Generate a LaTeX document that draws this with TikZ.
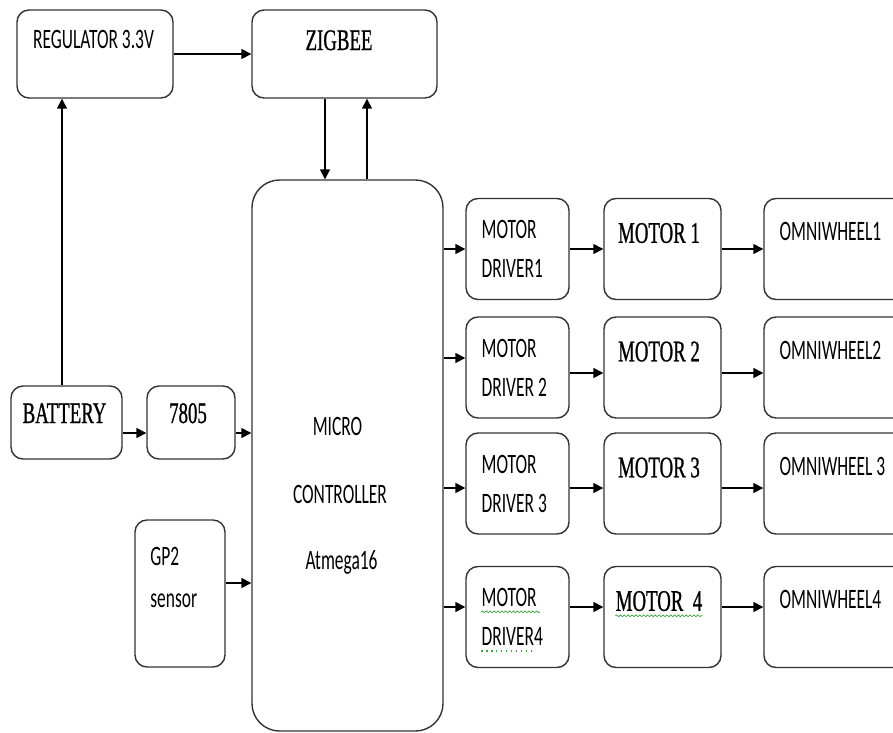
\documentclass[tikz,border=0pt]{standalone}
\usepackage{fontspec}
\usepackage{xcolor}
\usepackage{tikz}
\usetikzlibrary{arrows.meta, positioning, decorations.pathmorphing}
\newfontfamily\sansc[FakeStretch=0.62]{Carlito}
\newfontfamily\serifc[FakeStretch=0.63, FakeBold=0.8]{Liberation Serif}
\definecolor{spellgreen}{RGB}{60,160,60}

\begin{document}
\begin{tikzpicture}[
  blk/.style={draw=black!80, line width=0.8pt, rounded corners=0.24cm, inner sep=0pt},
  drv/.style={blk, minimum width=2.06cm, minimum height=2.02cm},
  mot/.style={blk, minimum width=2.34cm, minimum height=2.02cm},
  whl/.style={blk, minimum width=2.90cm, minimum height=2.02cm},
  sanst/.style={font=\sansc\fontsize{16}{19}\selectfont, inner sep=0pt},
  seriet/.style={font=\serifc\fontsize{17}{20}\selectfont, inner sep=0pt},
  arr/.style={-{Triangle[length=0.2cm, width=0.2cm]}, line width=0.9pt},
  squig/.style={spellgreen, line width=0.4pt, decorate,
                decoration={snake, amplitude=0.5pt, segment length=2.2pt}}
]
\useasboundingbox (0,0) rectangle (17.86,-14.66);

%% Power and radio blocks
\node[blk, minimum width=3.12cm, minimum height=1.76cm] (reg)  at (1.90,-1.08) {};
\node[blk, minimum width=3.70cm, minimum height=1.76cm] (zig)  at (6.89,-1.08) {};
\node[blk, minimum width=2.22cm, minimum height=1.46cm] (bat)  at (1.33,-8.45) {};
\node[blk, minimum width=1.76cm, minimum height=1.46cm] (reg5) at (3.82,-8.45) {};
\node[blk, minimum width=1.80cm, minimum height=2.94cm] (gp2)  at (3.60,-11.87) {};

%% Controller
\node[blk, rounded corners=0.55cm, minimum width=3.82cm, minimum height=11.02cm]
  (mcu) at (6.95,-9.11) {};

%% Motor drivers
\node[drv] (d1) at (10.35, -4.98) {};
\node[drv] (d2) at (10.35, -7.35) {};
\node[drv] (d3) at (10.35, -9.67) {};
\node[drv] (d4) at (10.35,-12.34) {};

%% Motors
\node[mot] (m1) at (13.25, -4.98) {};
\node[mot] (m2) at (13.25, -7.35) {};
\node[mot] (m3) at (13.25, -9.67) {};
\node[mot] (m4) at (13.25,-12.34) {};

%% Omniwheels
\node[whl] (w1) at (16.73, -4.98) {};
\node[whl] (w2) at (16.73, -7.35) {};
\node[whl] (w3) at (16.73, -9.67) {};
\node[whl] (w4) at (16.73,-12.34) {};

%% Texts
\node[sanst,  anchor=base] (reg-t)  at (1.87,-0.96) {REGULATOR 3.3V};
\node[seriet, anchor=base] (zig-t)  at (6.78,-1.00) {ZIGBEE};
\node[seriet, anchor=base] (bat-t)  at (1.29,-8.46) {BATTERY};
\node[seriet, anchor=base] (reg5-t) at (3.76,-8.46) {7805};
\node[sanst, anchor=base west] (gp2-a) at (3.00,-11.30) {GP2};
\node[sanst, anchor=base west] (gp2-b) at (3.00,-12.14) {sensor};
\node[sanst, anchor=base] (mcu-a) at (6.75, -8.70) {MICRO};
\node[sanst, anchor=base] (mcu-b) at (6.80,-10.06) {CONTROLLER};
\node[sanst, anchor=base] (mcu-c) at (6.83,-11.38) {Atmega16};

\node[sanst, anchor=base west] (d1-a) at ([xshift=0.32cm, yshift=-0.82cm]d1.north west) {MOTOR};
\node[sanst, anchor=base west] (d1-b) at ([xshift=0.32cm, yshift=-1.60cm]d1.north west) {DRIVER1};
\node[sanst, anchor=base west] (d2-a) at ([xshift=0.32cm, yshift=-0.82cm]d2.north west) {MOTOR};
\node[sanst, anchor=base west] (d2-b) at ([xshift=0.32cm, yshift=-1.60cm]d2.north west) {DRIVER 2};
\node[sanst, anchor=base west] (d3-a) at ([xshift=0.32cm, yshift=-0.82cm]d3.north west) {MOTOR};
\node[sanst, anchor=base west] (d3-b) at ([xshift=0.32cm, yshift=-1.60cm]d3.north west) {DRIVER 3};
\node[sanst, anchor=base west] (d4-a) at ([xshift=0.32cm, yshift=-0.82cm]d4.north west) {MOTOR};
\node[sanst, anchor=base west] (d4-b) at ([xshift=0.32cm, yshift=-1.60cm]d4.north west) {DRIVER4};

\node[seriet, anchor=base] (m1-t) at ([xshift=-0.07cm, yshift=-0.90cm]m1.north) {MOTOR 1};
\node[seriet, anchor=base] (m2-t) at ([xshift=-0.07cm, yshift=-0.90cm]m2.north) {MOTOR 2};
\node[seriet, anchor=base] (m3-t) at ([xshift=-0.07cm, yshift=-0.90cm]m3.north) {MOTOR 3};
\node[seriet, anchor=base] (m4-t) at ([xshift=-0.07cm, yshift=-0.90cm]m4.north) {MOTOR\ \ 4};

\node[sanst, anchor=base west] (w1-t) at ([xshift=0.32cm, yshift=-0.86cm]w1.north west) {OMNIWHEEL1};
\node[sanst, anchor=base west] (w2-t) at ([xshift=0.32cm, yshift=-0.86cm]w2.north west) {OMNIWHEEL2};
\node[sanst, anchor=base west] (w3-t) at ([xshift=0.32cm, yshift=-0.86cm]w3.north west) {OMNIWHEEL 3};
\node[sanst, anchor=base west] (w4-t) at ([xshift=0.32cm, yshift=-0.86cm]w4.north west) {OMNIWHEEL4};

%% Spell-check marks
\draw[squig] ([yshift=-0.1cm]d4-a.base west) -- ([xshift=0.06cm, yshift=-0.1cm]d4-a.base east);
\draw[squig] ([yshift=-0.1cm]m4-t.base west) -- ([yshift=-0.1cm]m4-t.base east);
\draw[spellgreen, line width=0.8pt, dotted] ([yshift=-0.1cm]d4-b.base west) -- ([xshift=-0.22cm, yshift=-0.1cm]d4-b.base east);

%% Power and radio arrows
\draw[arr] (reg) -- (zig);
\draw[arr] ([xshift=-0.39cm]zig.south) -- ([xshift=-0.39cm]zig.south |- mcu.north);
\draw[arr] ([xshift=0.45cm]zig.south |- mcu.north) -- ([xshift=0.45cm]zig.south);
\draw[arr] ([xshift=-0.09cm]bat.north) -- ([xshift=-0.09cm]bat.north |- reg.south);
\draw[arr] ([yshift=-0.21cm]bat.east) -- ([yshift=-0.21cm]bat.east -| reg5.west);
\draw[arr] ([yshift=-0.21cm]reg5.east) -- ([yshift=-0.21cm]reg5.east -| mcu.west);
\draw[arr] ([yshift=0.21cm]gp2.east) -- ([yshift=0.21cm]gp2.east -| mcu.west);

%% Row 1
\draw[arr] (mcu.east |- d1.west) -- (d1.west);
\draw[arr] (d1) -- (m1);
\draw[arr] (m1) -- (w1);

%% Row 2
\draw[arr] ([yshift=0.19cm]d2.west -| mcu.east) -- ([yshift=0.19cm]d2.west);
\draw[arr] ([yshift=-0.11cm]d2.east) -- ([yshift=-0.11cm]m2.west);
\draw[arr] ([yshift=-0.11cm]m2.east) -- ([yshift=-0.11cm]w2.west);

%% Row 3
\draw[arr] ([yshift=-0.09cm]d3.west -| mcu.east) -- ([yshift=-0.09cm]d3.west);
\draw[arr] ([yshift=-0.09cm]d3.east) -- ([yshift=-0.09cm]m3.west);
\draw[arr] ([yshift=-0.09cm]m3.east) -- ([yshift=-0.09cm]w3.west);

%% Row 4
\draw[arr] ([yshift=0.20cm]d4.west -| mcu.east) -- ([yshift=0.20cm]d4.west);
\draw[arr] ([yshift=0.20cm]d4.east) -- ([yshift=0.20cm]m4.west);
\draw[arr] ([yshift=0.20cm]m4.east) -- ([yshift=0.20cm]w4.west);

\end{tikzpicture}
\end{document}
